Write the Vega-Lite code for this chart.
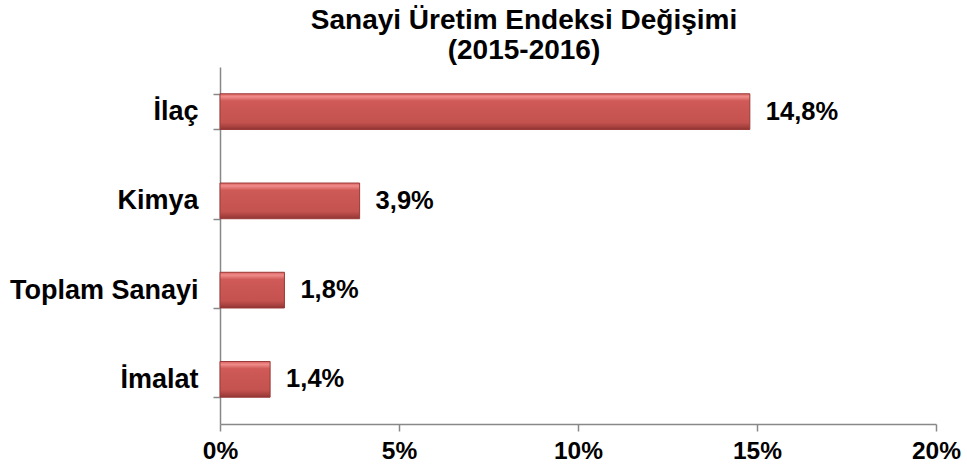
{
  "$schema": "https://vega.github.io/schema/vega-lite/v6.json",
  "autosize": {"type": "none"},
  "padding": {"left": 220, "top": 67, "right": 31, "bottom": 51},
  "width": 716,
  "height": 357,
  "background": "white",
  "title": {
    "text": ["Sanayi Üretim Endeksi Değişimi", "(2015-2016)"],
    "font": "Liberation Sans",
    "fontSize": 28,
    "fontWeight": "bold",
    "color": "#000000",
    "lineHeight": 30,
    "anchor": "middle",
    "dx": -54,
    "offset": -12
  },
  "data": {
    "values": [
      {"kategori": "İlaç", "deger": 0.148, "etiket": "14,8%"},
      {"kategori": "Kimya", "deger": 0.039, "etiket": "3,9%"},
      {"kategori": "Toplam Sanayi", "deger": 0.018, "etiket": "1,8%"},
      {"kategori": "İmalat", "deger": 0.014, "etiket": "1,4%"}
    ]
  },
  "config": {
    "view": {"stroke": null},
    "font": "Liberation Sans"
  },
  "encoding": {
    "y": {
      "field": "kategori",
      "type": "nominal",
      "sort": null,
      "scale": {"paddingInner": 0.6, "paddingOuter": 0.3},
      "axis": {
        "title": null,
        "domainColor": "#888888",
        "domainWidth": 1.5,
        "tickColor": "#888888",
        "tickWidth": 1.5,
        "tickSize": 7,
        "tickBand": "extent",
        "labelFont": "Liberation Sans",
        "labelFontSize": 27,
        "labelFontWeight": "bold",
        "labelColor": "#000000",
        "labelPadding": 15,
        "labelLimit": 300
      }
    },
    "x": {
      "field": "deger",
      "type": "quantitative",
      "scale": {"domain": [0, 0.2], "nice": false},
      "axis": {
        "title": null,
        "format": ".0%",
        "values": [0, 0.05, 0.1, 0.15, 0.2],
        "grid": false,
        "domainColor": "#888888",
        "domainWidth": 1.5,
        "tickColor": "#888888",
        "tickWidth": 1.5,
        "tickSize": 7,
        "labelFont": "Liberation Sans",
        "labelFontSize": 24.5,
        "labelFontWeight": "bold",
        "labelColor": "#000000",
        "labelPadding": 8,
        "labelFlush": false
      }
    }
  },
  "layer": [
    {
      "mark": {
        "type": "bar",
        "stroke": "#9a3a38",
        "strokeWidth": 1,
        "color": {
          "gradient": "linear",
          "x1": 0, "y1": 0, "x2": 0, "y2": 1,
          "stops": [
            {"offset": 0, "color": "#d9625f"},
            {"offset": 0.08, "color": "#f08c8a"},
            {"offset": 0.2, "color": "#cf5a57"},
            {"offset": 0.8, "color": "#c4524f"},
            {"offset": 0.92, "color": "#a8423f"},
            {"offset": 1, "color": "#8e3533"}
          ]
        }
      }
    },
    {
      "mark": {
        "type": "text",
        "align": "left",
        "baseline": "middle",
        "dx": 16,
        "font": "Liberation Sans",
        "fontSize": 25.5,
        "fontWeight": "bold",
        "color": "#000000"
      },
      "encoding": {
        "text": {"field": "etiket"}
      }
    }
  ]
}
